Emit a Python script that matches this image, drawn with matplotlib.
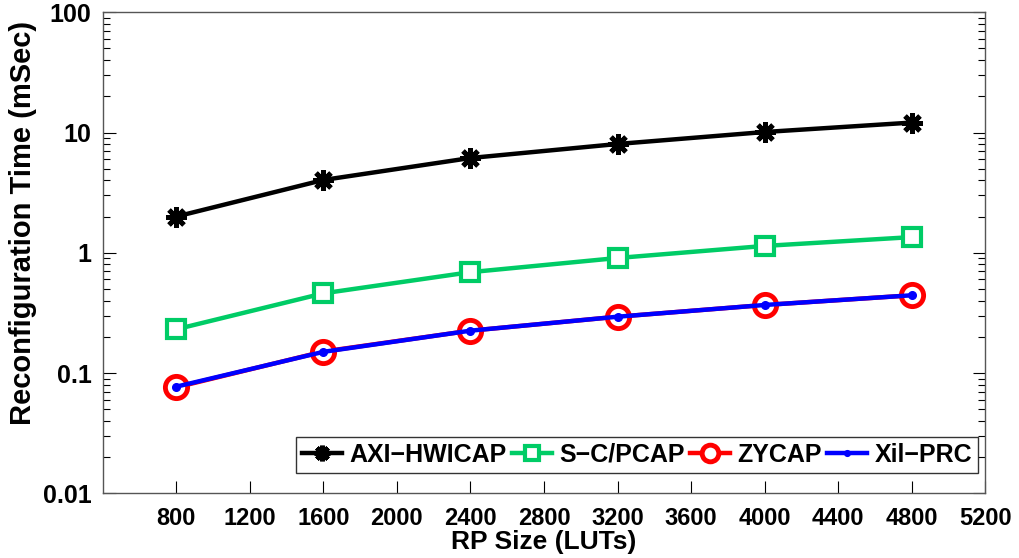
import numpy as np
import matplotlib
matplotlib.use("Agg")
from matplotlib import pyplot as plt
from matplotlib.ticker import LogLocator, NullFormatter

# RP size (LUTs)
rp_size = [800, 1600, 2400, 3200, 4000, 4800]

# reconfiguration time (mSec)
axi_hwicap = [2.0, 4.03, 6.14, 8.03, 10.1, 12.1]
sc_pcap = [0.231, 0.46, 0.69, 0.905, 1.14, 1.35]
zycap = [0.076, 0.151, 0.225, 0.294, 0.368, 0.443]
xil_prc = [0.077, 0.150, 0.225, 0.294, 0.368, 0.443]

x_ticks = [800, 1200, 1600, 2000, 2400, 2800, 3200, 3600, 4000, 4400, 4800, 5200]
y_ticks = [0.01, 0.1, 1, 10, 100]
y_labels = ["0.01", "0.1", "1", "10", "100"]

plt.rcParams['font.family'] = ['Liberation Sans', 'DejaVu Sans']
plt.rcParams['font.weight'] = 'bold'

fig = plt.figure(figsize=(10.2, 5.58), dpi=100)
ax = fig.add_axes([0.1007, 0.116, 0.8653, 0.862])

ax.plot(rp_size, axi_hwicap, color='black', lw=3.2, marker=(8, 2, 0), ms=15, mew=3.5,
        label='AXI\u2212HWICAP')
ax.plot(rp_size, sc_pcap, color='#00cc66', lw=3.2, marker='s', ms=13, mew=3,
        mfc='white', label='S\u2212C/PCAP')
ax.plot(rp_size, zycap, color='red', lw=3.2, marker='o', ms=16, mew=3.5,
        mfc='white', label='ZYCAP')
ax.plot(rp_size, xil_prc, color='blue', lw=3.2, marker='.', ms=11,
        label='Xil\u2212PRC')

ax.set_yscale('log')
ax.set_ylim(0.01, 100)
ax.set_xlim(400, 5200)
ax.set_yticks(y_ticks)
ax.set_yticklabels(y_labels)
ax.yaxis.set_minor_locator(LogLocator(base=10, subs=np.arange(2, 10)))
ax.yaxis.set_minor_formatter(NullFormatter())
ax.set_xticks(x_ticks)
ax.set_xticklabels([str(v) for v in x_ticks])

ax.tick_params(axis='y', which='both', direction='in', right=True, labelsize=18, pad=8)
ax.tick_params(axis='y', which='major', length=9, width=0.8)
ax.tick_params(axis='y', which='minor', length=5, width=0.8)
ax.tick_params(axis='x', direction='in', length=9, width=0.8, labelsize=17, pad=10)
for sp in ax.spines.values():
    sp.set_color('#555555')
    sp.set_linewidth(1.0)

ax.set_xlabel('RP Size (LUTs)', fontsize=19, fontweight='bold', labelpad=0)
ax.set_ylabel('Reconfiguration Time (mSec)', fontsize=21, fontweight='bold')
ax.yaxis.set_label_coords(-0.075, 0.563)

leg = ax.legend(loc='lower right', bbox_to_anchor=(0.992, 0.042), ncol=4,
                frameon=True, fancybox=False, handlelength=1.6, handletextpad=0.3,
                columnspacing=0.2, borderpad=0.25, borderaxespad=0.0, markerscale=0.75,
                prop={'weight': 'bold', 'size': 18})
leg.get_frame().set_edgecolor('black')
leg.get_frame().set_linewidth(1.0)

fig.savefig('out.png', dpi=100)
